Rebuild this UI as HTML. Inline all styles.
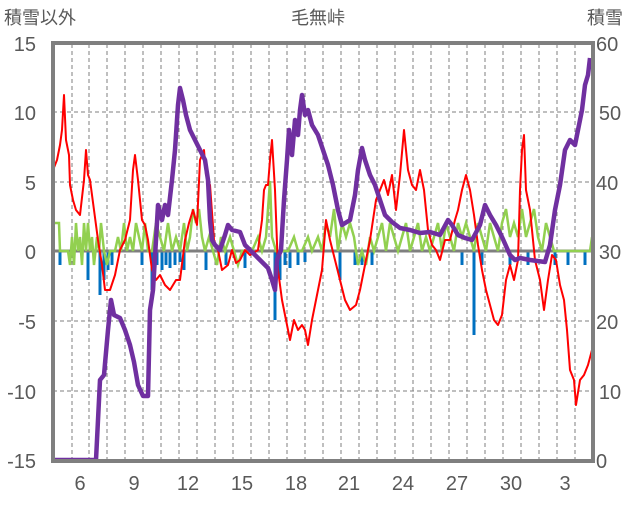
<!DOCTYPE html>
<html><head><meta charset="utf-8"><style>
body{margin:0;background:#fff;width:636px;height:501px;overflow:hidden;font-family:"Liberation Sans","Noto Sans CJK JP",sans-serif}
svg text{font-family:"Liberation Sans","Noto Sans CJK JP",sans-serif;fill:#595959}
</style></head><body>
<svg width="636" height="501" viewBox="0 0 636 501">
<g stroke="#7f7f7f" stroke-width="1" stroke-dasharray="4,3">
<line x1="53" y1="112" x2="593" y2="112"/><line x1="53" y1="182" x2="593" y2="182"/>
<line x1="53" y1="321" x2="593" y2="321"/><line x1="53" y1="391" x2="593" y2="391"/>
<line x1="72" y1="44" x2="72" y2="461"/><line x1="89" y1="44" x2="89" y2="461"/><line x1="107" y1="44" x2="107" y2="461"/><line x1="125" y1="44" x2="125" y2="461"/><line x1="143" y1="44" x2="143" y2="461"/><line x1="161" y1="44" x2="161" y2="461"/><line x1="179" y1="44" x2="179" y2="461"/><line x1="197" y1="44" x2="197" y2="461"/><line x1="215" y1="44" x2="215" y2="461"/><line x1="233" y1="44" x2="233" y2="461"/><line x1="251" y1="44" x2="251" y2="461"/><line x1="269" y1="44" x2="269" y2="461"/><line x1="287" y1="44" x2="287" y2="461"/><line x1="305" y1="44" x2="305" y2="461"/><line x1="323" y1="44" x2="323" y2="461"/><line x1="341" y1="44" x2="341" y2="461"/><line x1="359" y1="44" x2="359" y2="461"/><line x1="377" y1="44" x2="377" y2="461"/><line x1="395" y1="44" x2="395" y2="461"/><line x1="413" y1="44" x2="413" y2="461"/><line x1="431" y1="44" x2="431" y2="461"/><line x1="449" y1="44" x2="449" y2="461"/><line x1="467" y1="44" x2="467" y2="461"/><line x1="485" y1="44" x2="485" y2="461"/><line x1="503" y1="44" x2="503" y2="461"/><line x1="521" y1="44" x2="521" y2="461"/><line x1="539" y1="44" x2="539" y2="461"/><line x1="557" y1="44" x2="557" y2="461"/><line x1="575" y1="44" x2="575" y2="461"/>
</g>
<g stroke="#0070c0" stroke-width="3">
<line x1="60" y1="252" x2="60" y2="265"/><line x1="88" y1="252" x2="88" y2="280"/><line x1="100" y1="252" x2="100" y2="295"/><line x1="104" y1="252" x2="104" y2="280"/><line x1="108" y1="252" x2="108" y2="270"/><line x1="112" y1="252" x2="112" y2="265"/><line x1="142" y1="252" x2="142" y2="265"/><line x1="152" y1="252" x2="152" y2="290"/><line x1="157" y1="252" x2="157" y2="265"/><line x1="162" y1="252" x2="162" y2="270"/><line x1="166" y1="252" x2="166" y2="265"/><line x1="170" y1="252" x2="170" y2="268"/><line x1="175" y1="252" x2="175" y2="265"/><line x1="180" y1="252" x2="180" y2="262"/><line x1="184" y1="252" x2="184" y2="270"/><line x1="206" y1="252" x2="206" y2="270"/><line x1="226" y1="252" x2="226" y2="265"/><line x1="245" y1="252" x2="245" y2="268"/><line x1="275" y1="252" x2="275" y2="320"/><line x1="280" y1="252" x2="280" y2="280"/><line x1="285" y1="252" x2="285" y2="265"/><line x1="290" y1="252" x2="290" y2="268"/><line x1="298" y1="252" x2="298" y2="265"/><line x1="305" y1="252" x2="305" y2="262"/><line x1="340" y1="252" x2="340" y2="280"/><line x1="355" y1="252" x2="355" y2="265"/><line x1="362" y1="252" x2="362" y2="265"/><line x1="372" y1="252" x2="372" y2="265"/><line x1="462" y1="252" x2="462" y2="265"/><line x1="474" y1="252" x2="474" y2="335"/><line x1="482" y1="252" x2="482" y2="265"/><line x1="510" y1="252" x2="510" y2="265"/><line x1="528" y1="252" x2="528" y2="265"/><line x1="555" y1="252" x2="555" y2="265"/><line x1="568" y1="252" x2="568" y2="265"/><line x1="585" y1="252" x2="585" y2="265"/>
</g>
<line x1="53" y1="251" x2="593" y2="251" stroke="#7f7f7f" stroke-width="3"/>
<polyline fill="none" stroke="#92d050" stroke-width="2.5" points="54,223 59,223 60,251 68,251 70,265 72,237 74,265 76,223 78,251 80,237 82,265 84,223 86,251 88,223 90,251 92,237 94,265 97,237 99,251 101,223 104,251 107,265 110,251 115,251 118,237 121,251 124,223 127,251 130,237 133,251 136,223 139,237 142,251 145,223 148,251 152,251 156,223 160,237 164,251 168,223 172,251 176,237 180,251 184,223 187,251 190,237 193,209 196,223 199,209 202,237 205,251 209,237 213,251 217,265 221,237 225,251 230,237 234,251 238,265 242,251 248,251 252,251 258,237 262,251 266,237 270,181 272,237 276,251 282,251 288,251 294,237 298,251 302,251 308,237 312,251 318,237 322,251 326,223 330,237 334,209 338,251 342,223 346,237 350,223 354,237 358,265 362,251 366,265 370,237 374,251 378,237 382,223 386,251 390,223 394,237 398,251 402,237 406,223 410,251 414,237 418,223 422,251 426,237 430,251 434,237 438,223 442,251 446,223 450,237 454,251 458,223 462,237 466,223 470,237 474,251 478,223 482,237 486,251 490,223 494,237 498,251 502,223 506,209 510,237 514,223 518,237 522,209 526,237 530,223 534,209 538,237 542,251 546,223 550,237 554,251 558,251 566,251 580,251 590,251 592,237"/>
<polyline fill="none" stroke="#ff0000" stroke-width="2" stroke-linejoin="round" points="53,170 57,160 60,145 62,130 64,95 66,140 69,155 70,185 73,200 76,210 80,215 84,180 86,150 88,175 90,180 94,210 98,240 102,265 105,290 110,290 115,275 120,250 125,240 130,220 133,170 135,155 138,180 142,220 145,225 148,240 152,270 156,280 160,275 165,285 170,290 176,280 180,280 185,240 189,223 193,210 197,225 200,160 204,150 206,175 210,185 214,240 218,250 222,270 228,265 232,250 236,263 240,260 245,250 250,255 255,252 258,250 262,220 264,190 266,185 268,185 270,160 272,140 275,190 278,270 282,300 286,320 290,340 294,320 298,330 302,325 305,330 308,345 312,320 318,290 322,270 326,220 330,240 335,260 340,280 345,300 350,310 356,305 360,290 364,270 370,240 376,200 380,190 384,180 388,195 392,175 396,210 400,175 404,130 408,170 412,185 416,190 420,170 424,190 428,230 432,245 436,250 440,260 445,240 450,240 455,220 458,210 462,190 466,175 470,190 474,215 478,245 482,270 486,290 490,305 494,320 498,325 502,315 506,280 510,265 514,280 518,260 520,190 522,150 524,135 526,190 530,210 535,260 540,280 544,310 548,280 552,255 556,260 560,285 564,300 567,330 570,370 574,380 576,405 580,380 584,375 588,365 592,350"/>
<polyline fill="none" stroke="#7030a0" stroke-width="4.5" stroke-linejoin="round" points="53,460 96,460 100,380 104,375 108,330 111,300 114,315 120,318 125,330 130,345 134,362 138,385 143,396 148,396 150,310 153,290 156,240 158,205 162,220 165,205 168,215 172,180 175,150 178,105 180,88 183,100 186,115 190,130 195,140 200,150 205,160 208,180 210,220 212,240 215,245 220,250 225,235 228,225 232,230 240,232 245,245 250,250 258,258 262,262 268,268 272,280 275,290 277,260 281,250 284,200 287,160 289,130 292,155 295,120 298,135 300,110 302,95 305,115 308,110 312,125 318,135 323,150 328,165 333,185 338,210 342,225 350,220 355,195 358,170 362,148 365,160 370,175 375,185 380,200 385,215 392,222 400,228 410,230 420,233 430,232 440,235 448,220 452,225 458,235 465,238 472,240 480,225 485,205 490,215 496,225 502,237 510,255 515,260 520,258 530,260 545,262 550,245 555,210 560,185 565,150 570,140 575,145 578,130 582,110 585,85 588,75 590,58"/>
<rect x="53" y="43" width="540" height="418" fill="none" stroke="#7f7f7f" stroke-width="4"/>
<g font-size="20" text-anchor="end">
<text x="36" y="51">15</text><text x="36" y="120">10</text><text x="36" y="190">5</text><text x="36" y="259">0</text><text x="36" y="329">-5</text><text x="36" y="399">-10</text><text x="36" y="468">-15</text>
</g>
<g font-size="20" text-anchor="start">
<text x="596" y="51">60</text><text x="596" y="190">40</text><text x="596" y="329">20</text><text x="596" y="468">0</text>
<text x="610" y="120" text-anchor="middle">50</text><text x="610" y="259" text-anchor="middle">30</text><text x="610" y="399" text-anchor="middle">10</text>
</g>
<g font-size="20" text-anchor="middle">
<text x="80" y="490">6</text><text x="134" y="490">9</text><text x="188" y="490">12</text><text x="242" y="490">15</text><text x="296" y="490">18</text><text x="349" y="490">21</text><text x="403" y="490">24</text><text x="457" y="490">27</text><text x="511" y="490">30</text><text x="565" y="490">3</text>
</g>
<g font-size="18">
<text x="4" y="24">積雪以外</text><text x="318" y="24" text-anchor="middle">毛無峠</text><text x="587" y="24">積雪</text>
</g>
</svg>
</body></html>
